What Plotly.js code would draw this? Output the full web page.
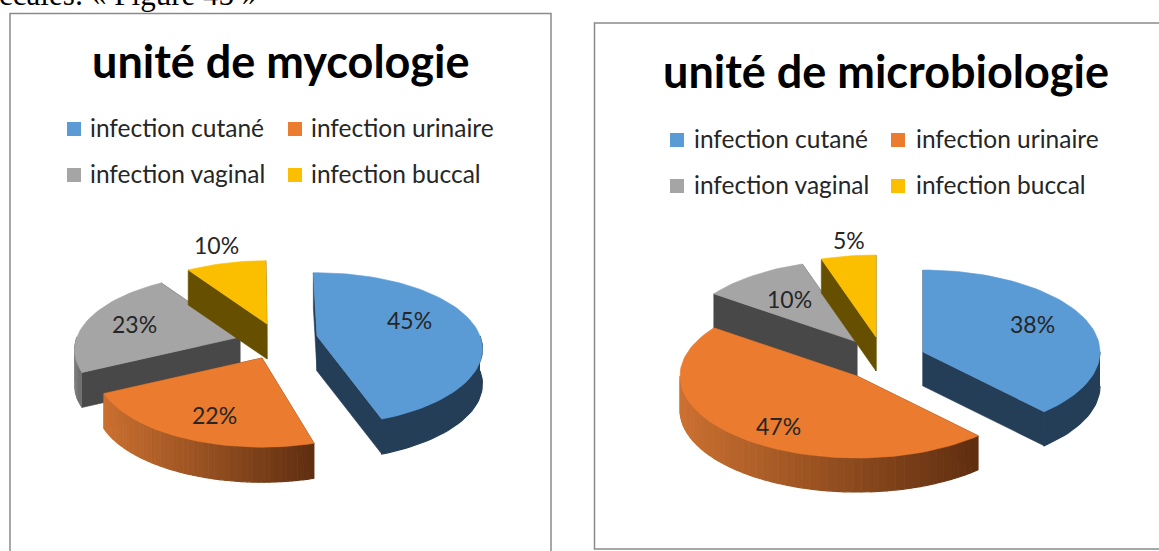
<!DOCTYPE html>
<html>
<head>
<meta charset="utf-8">
<script src="https://cdn.plot.ly/plotly-3.0.1.min.js"></script>
<style>html,body{margin:0;padding:0;background:#fff;overflow:hidden}#c{width:1159px;height:551px}svg text{font-variant-ligatures:none}</style>
</head>
<body>
<div id="c"></div>
<script>
// ---- data ----
const categories = ['infection cutané', 'infection urinaire', 'infection vaginal', 'infection buccal'];
const mycologyShares = [45, 22, 23, 10];
const microbiologyShares = [38, 47, 10, 5];
const mycologyTitle = 'unité de mycologie';
const microbiologyTitle = 'unité de microbiologie';
const captionText = 'ccales: « Figure 45 »';

// ---- styles ----
const topColors = ['#5b9bd5', '#ea7b2f', '#a5a5a5', '#fcbf00'];
const wallColors = ['#243e57', '#6a3412', '#484848', '#665000'];
const rimGrad = [
  [[36,62,87],[36,62,87]],
  [[203,112,48],[94,46,16]],
  [[125,125,125],[105,105,105]],
  [[102,80,0],[102,80,0]]
];
const rimBands = [1, 48, 4, 1];
const drawOrder = [2, 3, 0, 1];
const FONT = 'Lato, "Open Sans", sans-serif';

const charts = [
  { shares: mycologyShares, title: mycologyTitle, rot: -1.5, rx: 163, ry: 74, p: 0.17, depth: 35,
    // small per-slice angle corrections for the picture's perspective: [start, end]
    skew: [[0,0],[4,4],[4,4],[4,1]],
    apex: [[317,336],[262,358],[240,337],[267,324]],
    labels: [[409,320],[214,415],[134,324],[216,245]],
    titlePos: [281,61], titleSize: 45,
    swatchX: [74,295], textX: [88,309], rowY: [129,175] },
  { shares: microbiologyShares, title: microbiologyTitle, rot: 0, rx: 177, ry: 82, p: 0, depth: 34,
    skew: [[0,0],[0,0],[0,0],[0,0]],
    apex: [[923,352],[857,376],[857,342],[876,337]],
    labels: [[1032,324],[778,426],[789,299],[849,240]],
    titlePos: [886,71], titleSize: 45,
    swatchX: [677,898], textX: [692,914], rowY: [140,186] }
];

function project(c, i, deg, dz) {
  const t = deg * Math.PI / 180, u = Math.sin(t), v = Math.cos(t);
  const k = 1 / (1 + c.p * v);
  return [c.apex[i][0] + c.rx * u * k, c.apex[i][1] - c.ry * v * k + dz];
}
function poly(xs, ys, color, w) {
  return { type:'scatter', mode:'lines', x:xs, y:ys, fill:'toself', fillcolor:color,
           line:{color:color, width:w === undefined ? 0.6 : w}, hoverinfo:'skip', showlegend:false };
}
function arc(c, i, a, b, dz) {
  const n = Math.max(2, Math.ceil(Math.abs(b - a) / 2));
  const pts = [];
  for (let j = 0; j <= n; j++) pts.push(project(c, i, a + (b - a) * j / n, dz));
  return pts;
}
function mix(g, f) {
  const m = [0,1,2].map(q => Math.round(g[0][q] + (g[1][q] - g[0][q]) * f));
  return 'rgb(' + m.join(',') + ')';
}

const traces = [], annotations = [];
function text(x, y, str, size, opts) {
  annotations.push(Object.assign({ x:x, y:y, xref:'x', yref:'y', text:str, showarrow:false,
    font:{family:FONT, size:size, color:'#262626'}, xanchor:'center', yanchor:'middle' }, opts || {}));
}

charts.forEach(c => {
  const total = c.shares.reduce((s, v) => s + v, 0);
  let acc = c.rot;
  const spans = c.shares.map((v, i) => { const a = acc; acc += v / total * 360; return [a + c.skew[i][0], acc + c.skew[i][1]]; });

  drawOrder.forEach(i => {
    const [a, b] = spans[i], ax = c.apex[i], d = c.depth;
    // radial side walls
    [a, b].forEach(th => {
      const r = project(c, i, th, 0);
      traces.push(poly([ax[0], r[0], r[0], ax[0], ax[0]], [ax[1], r[1], r[1] + d, ax[1] + d, ax[1]], wallColors[i]));
    });
    // outer rim: only the part facing the viewer, split in bands for the shading
    const pts = arc(c, i, a, b, 0);
    const ra = Math.max(a, 90), rb = Math.min(b, 270);
    if (rb > ra) {
      const rimPts = arc(c, i, ra, rb, 0);
      const xmin = Math.min(...rimPts.map(p => p[0])), xmax = Math.max(...rimPts.map(p => p[0]));
      const nb = rimBands[i];
      for (let j = 0; j < nb; j++) {
        const a0 = ra + (rb - ra) * j / nb, a1 = ra + (rb - ra) * (j + 1) / nb;
        const up = arc(c, i, a0, a1, 0), lo = arc(c, i, a1, a0, d);
        const all = up.concat(lo);
        const mx = (project(c, i, (a0 + a1) / 2, 0)[0] - xmin) / (xmax - xmin || 1);
        traces.push(poly(all.map(p => p[0]), all.map(p => p[1]), mix(rimGrad[i], mx), 1.2));
      }
    }
    // top face
    const top = [ax].concat(pts, [ax]);
    traces.push(poly(top.map(p => p[0]), top.map(p => p[1]), topColors[i]));
    // value label
    text(c.labels[i][0], c.labels[i][1], c.shares[i] + '%', 23);
  });

  // title
  text(c.titlePos[0], c.titlePos[1], '<b>' + c.title + '</b>', c.titleSize, { font:{family:FONT, size:c.titleSize, color:'#000'} });

  // legend, two rows of two
  categories.forEach((name, i) => {
    const col = i % 2, row = Math.floor(i / 2);
    traces.push({ type:'scatter', mode:'markers', x:[c.swatchX[col]], y:[c.rowY[row]],
      marker:{symbol:'square', size:14, color:topColors[i], line:{width:0}}, hoverinfo:'skip', showlegend:false });
    text(c.textX[col], c.rowY[row] - 2, name, 24.5, { xanchor:'left' });
  });
});

// text cut by the top of the page, from the surrounding document
text(0, 14, captionText, 31, { xanchor:'left', yanchor:'bottom', xshift:-3,
  font:{family:'"Liberation Serif", serif', size:31, color:'#000'} });

const frame = (x0, y0, x1, y1) => ({ type:'rect', xref:'x', yref:'y', x0, y0, x1, y1, line:{color:'#8a8a8a', width:1.5}, fillcolor:'rgba(0,0,0,0)', layer:'below' });

Plotly.newPlot('c', traces, {
  width:1159, height:551, margin:{l:0,r:0,t:0,b:0},
  paper_bgcolor:'#fff', plot_bgcolor:'#fff', showlegend:false,
  xaxis:{range:[0,1159], visible:false, fixedrange:true},
  yaxis:{range:[551,0], visible:false, fixedrange:true},
  shapes:[frame(10,13.5,551,560), frame(594.5,23,1170,549)],
  annotations
}, {staticPlot:true, displayModeBar:false});
</script>
</body>
</html>
